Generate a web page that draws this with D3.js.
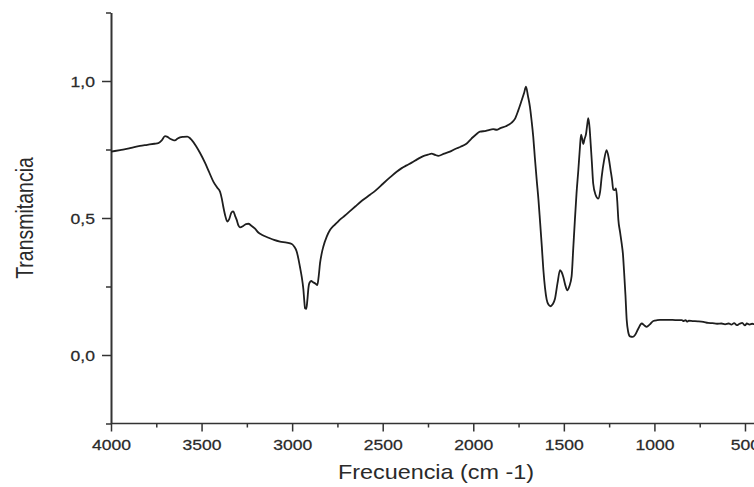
<!DOCTYPE html>
<html>
<head>
<meta charset="utf-8">
<script src="https://cdn.jsdelivr.net/npm/d3@7/dist/d3.min.js"></script>
<style>
  html, body { margin: 0; padding: 0; background: #fff; }
  svg { display: block; }
  text { font-family: "Liberation Sans", Arial, sans-serif; fill: #2a2a2a; }
</style>
</head>
<body>
<svg id="chart" width="754" height="487"></svg>
<script>
// IR spectrum: wavenumber (cm-1) and transmittance
const wavenumber = [
  4000, 3950, 3900, 3877, 3840, 3800, 3760, 3739, 3720, 3702, 3688, 3674, 3660, 3647, 3632, 3619,
  3600, 3579, 3565, 3555, 3530, 3509, 3480, 3460, 3435, 3415, 3398, 3388, 3380, 3368, 3358, 3348,
  3335, 3325, 3315, 3306, 3296, 3288, 3270, 3255, 3242, 3225, 3205, 3185, 3168, 3130, 3100, 3067,
  3030, 3002, 2988, 2975, 2965, 2957, 2947, 2938, 2932, 2929, 2922, 2916, 2910, 2905, 2895, 2883,
  2870, 2861, 2853, 2846, 2837, 2828, 2809, 2791, 2773, 2754, 2736, 2710, 2681, 2650, 2620, 2590,
  2570, 2540, 2497, 2460, 2423, 2395, 2368, 2340, 2310, 2276, 2250, 2230, 2210, 2193, 2160, 2129,
  2100, 2070, 2040, 2010, 1985, 1963, 1930, 1910, 1890, 1870, 1853, 1820, 1800, 1788, 1770, 1752,
  1735, 1720, 1709, 1698, 1687, 1678, 1669, 1660, 1650, 1640, 1632, 1622, 1613, 1604, 1595, 1585,
  1573, 1562, 1549, 1535, 1521, 1512, 1503, 1492, 1481, 1470, 1457, 1448, 1439, 1430, 1420, 1412,
  1405, 1399, 1393, 1385, 1378, 1371, 1365, 1358, 1352, 1345, 1338, 1325, 1310, 1300, 1291, 1278,
  1264, 1252, 1242, 1234, 1227, 1220, 1212, 1205, 1199, 1190, 1181, 1174, 1168, 1160, 1153, 1145,
  1135, 1120, 1107, 1090, 1070, 1055, 1043, 1025, 1006, 985, 969, 940, 900, 870, 849, 838,
  828, 820, 810, 790, 760, 730, 704, 680, 654, 630, 610, 590, 575, 560, 545, 530,
  515, 500, 490, 475, 460, 445, 430
];
const transmittance = [
  0.742, 0.748, 0.754, 0.758, 0.763, 0.767, 0.771, 0.773, 0.783, 0.799, 0.796, 0.789, 0.785, 0.783, 0.790, 0.794,
  0.796, 0.797, 0.792, 0.785, 0.762, 0.738, 0.700, 0.670, 0.633, 0.612, 0.596, 0.570, 0.541, 0.505, 0.487, 0.495,
  0.520, 0.524, 0.508, 0.493, 0.472, 0.466, 0.471, 0.478, 0.479, 0.472, 0.461, 0.446, 0.439, 0.428, 0.420, 0.414,
  0.410, 0.405, 0.395, 0.378, 0.350, 0.322, 0.285, 0.240, 0.190, 0.170, 0.168, 0.200, 0.245, 0.262, 0.270, 0.265,
  0.260, 0.255, 0.290, 0.335, 0.370, 0.395, 0.432, 0.456, 0.470, 0.482, 0.494, 0.508, 0.525, 0.543, 0.560, 0.575,
  0.585, 0.600, 0.626, 0.648, 0.669, 0.682, 0.692, 0.702, 0.714, 0.726, 0.731, 0.735, 0.730, 0.727, 0.735, 0.742,
  0.752, 0.760, 0.770, 0.790, 0.805, 0.815, 0.818, 0.822, 0.824, 0.822, 0.827, 0.835, 0.842, 0.848, 0.862, 0.892,
  0.925, 0.955, 0.979, 0.945, 0.905, 0.855, 0.797, 0.720, 0.640, 0.565, 0.493, 0.400, 0.310, 0.245, 0.203, 0.184,
  0.178, 0.185, 0.205, 0.262, 0.310, 0.302, 0.285, 0.255, 0.236, 0.250, 0.288, 0.390, 0.493, 0.590, 0.675, 0.750,
  0.804, 0.790, 0.770, 0.790, 0.805, 0.840, 0.864, 0.830, 0.772, 0.700, 0.626, 0.585, 0.571, 0.595, 0.651, 0.710,
  0.748, 0.718, 0.675, 0.640, 0.603, 0.602, 0.608, 0.560, 0.493, 0.450, 0.408, 0.370, 0.310, 0.220, 0.128, 0.085,
  0.068, 0.066, 0.073, 0.095, 0.115, 0.108, 0.103, 0.112, 0.124, 0.127, 0.128, 0.128, 0.128, 0.127, 0.127, 0.124,
  0.127, 0.122, 0.125, 0.124, 0.123, 0.121, 0.117, 0.116, 0.114, 0.115, 0.112, 0.115, 0.111, 0.116, 0.109, 0.114,
  0.117, 0.108, 0.115, 0.111, 0.114, 0.112, 0.113
];

const xMajorTicks = [4000, 3500, 3000, 2500, 2000, 1500, 1000, 500];
const xMinorTicks = [3750, 3250, 2750, 2250, 1750, 1250, 750];
const yMajorTicks = [0.0, 0.5, 1.0];
const yMinorTicks = [-0.25, 0.25, 0.75, 1.25];
const xTitle = "Frecuencia (cm -1)";
const yTitle = "Transmitancia";

const svg = d3.select("#chart");
const W = 754, H = 487;
// Text in this figure is slightly widened horizontally
const textStretch = 1.17;

const x = d3.scaleLinear().domain([4000, 400]).range([111, 763.1]);
const y = d3.scaleLinear().domain([-0.25, 1.25]).range([423.5, 12.5]);

const axisColor = "#333";
const fmt = d => d3.format(".1f")(d).replace(".", ",");

// X axis: minor ticks
const gxMinor = svg.append("g").attr("transform", `translate(0,${y(-0.25)})`)
  .call(d3.axisBottom(x).tickValues(xMinorTicks).tickSize(4).tickFormat(""));
gxMinor.select(".domain").remove();

// X axis: major ticks and labels
const gx = svg.append("g").attr("transform", `translate(0,${y(-0.25)})`)
  .call(d3.axisBottom(x).tickValues(xMajorTicks).tickSize(8).tickSizeOuter(0).tickFormat(d3.format("d")));
gx.select(".domain").attr("stroke", axisColor).attr("stroke-width", 1.6)
  .attr("d", `M${x(4000)},0H${W}`);
gx.selectAll(".tick text")
  .attr("y", 0).attr("dy", 0)
  .attr("transform", `translate(0,26) scale(${textStretch},1)`)
  .style("font-size", "15px")
  .attr("fill", "#2a2a2a")
  .attr("stroke", "#2a2a2a").attr("stroke-width", 0.25);

// Y axis: minor ticks
const gyMinor = svg.append("g").attr("transform", `translate(${x(4000)},0)`)
  .call(d3.axisLeft(y).tickValues(yMinorTicks).tickSize(5).tickFormat(""));
gyMinor.select(".domain").remove();

// Y axis: major ticks and labels
const gy = svg.append("g").attr("transform", `translate(${x(4000)},0)`)
  .call(d3.axisLeft(y).tickValues(yMajorTicks).tickSize(9).tickSizeOuter(0).tickFormat(fmt));
gy.select(".domain").attr("stroke", axisColor).attr("stroke-width", 2);
gy.selectAll(".tick text")
  .attr("x", 0).attr("dy", 0)
  .attr("transform", `translate(-16,5.4) scale(${textStretch},1)`)
  .style("font-size", "15px")
  .attr("fill", "#2a2a2a")
  .attr("stroke", "#2a2a2a").attr("stroke-width", 0.25);

svg.selectAll(".tick line").attr("stroke", axisColor).attr("stroke-width", 1.5);

// Axis titles
svg.append("text")
  .attr("transform", `translate(436,479) scale(${textStretch},1)`)
  .attr("text-anchor", "middle")
  .style("font-size", "20px")
  .text(xTitle);

svg.append("text")
  .attr("transform", `translate(33,218) scale(1.25,1) rotate(-90)`)
  .attr("text-anchor", "middle")
  .style("font-size", "19.5px")
  .text(yTitle);

// Spectrum line
const points = wavenumber.map((w, i) => [w, transmittance[i]]);
const line = d3.line()
  .x(d => x(d[0]))
  .y(d => y(d[1]))
  .curve(d3.curveMonotoneX);

svg.append("path")
  .datum(points)
  .attr("fill", "none")
  .attr("stroke", "#1e1e1e")
  .attr("stroke-width", 1.8)
  .attr("stroke-linejoin", "round")
  .attr("d", line);
</script>
</body>
</html>
